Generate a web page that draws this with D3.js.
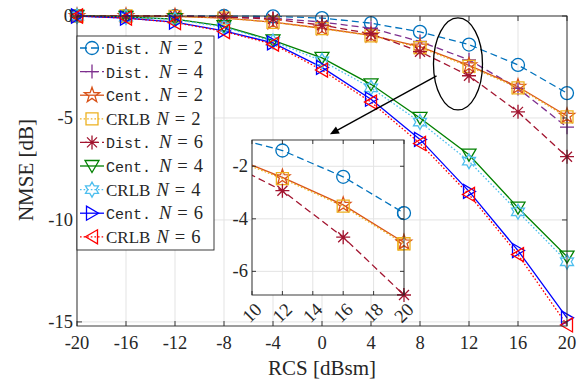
<!DOCTYPE html>
<html>
<head>
<meta charset="utf-8">
<script src="https://d3js.org/d3.v7.min.js"></script>
<style>
  body { margin: 0; background: #fff; }
  text { fill: #262626; }
</style>
</head>
<body>
<div id="chart"></div>
<script>
  // RCS values (x axis)
  const rcs = [-20, -16, -12, -8, -4, 0, 4, 8, 12, 16, 20];
  const xTicks = [-20, -16, -12, -8, -4, 0, 4, 8, 12, 16, 20];
  const yTicks = [-15, -10, -5, 0];
  const insetXTicks = [10, 12, 14, 16, 18, 20];
  const insetYTicks = [-6, -4, -2];

  // NMSE [dB] series
  const distN2 = [0, 0, 0, 0, -0.02, -0.1, -0.35, -0.78, -1.4, -2.4, -3.78];
  const distN4 = [0, 0, 0, -0.05, -0.1, -0.3, -0.6, -1.25, -2.15, -3.55, -5.45];
  const centN2 = [0, 0, -0.02, -0.1, -0.3, -0.6, -0.95, -1.5, -2.42, -3.47, -4.9];
  const crlbN2 = [0, 0, -0.02, -0.1, -0.31, -0.62, -0.97, -1.55, -2.47, -3.52, -4.95];
  const distN6 = [0, 0, 0, -0.05, -0.15, -0.45, -0.87, -1.75, -2.93, -4.7, -6.9];
  const centN4 = [0, -0.05, -0.15, -0.5, -1.2, -2.05, -3.35, -5.0, -6.8, -9.4, -11.8];
  const crlbN4 = [0, -0.05, -0.17, -0.55, -1.25, -2.2, -3.52, -5.2, -7.12, -9.6, -12.05];
  const centN6 = [0, -0.1, -0.3, -0.73, -1.32, -2.52, -4.08, -6.05, -8.6, -11.5, -14.8];
  const crlbN6 = [0, -0.1, -0.32, -0.76, -1.38, -2.65, -4.22, -6.25, -8.75, -11.7, -15.15];

  const labels = ["Dist.", "Dist.", "Cent.", "CRLB", "Dist.", "Cent.", "CRLB", "Cent.", "CRLB"];
  const nValues = [2, 4, 2, 2, 6, 4, 4, 6, 6];
  const seriesValues = [distN2, distN4, centN2, crlbN2, distN6, centN4, crlbN4, centN6, crlbN6];

  // styling per series
  const colors = ["#0072BD", "#7E2F8E", "#D95319", "#EDB120", "#A2142F", "#008000", "#4DBEEE", "#0000FF", "#FF0000"];
  const dashes = ["7,4", "7,4", null, "1.6,2", "7,4", null, "1.6,2", null, "1.6,2"];
  const markers = ["circle", "plus", "pentagram", "square", "asterisk", "tridown", "hexagram", "triright", "trileft"];
  const insetSeries = [0, 2, 3, 4];

  const series = seriesValues.map((vals, i) => ({
    label: labels[i], n: nValues[i], color: colors[i], dash: dashes[i], marker: markers[i],
    values: rcs.map((x, j) => ({ x: x, y: vals[j] }))
  }));

  const W = 580, H = 380;
  const svg = d3.select("#chart").append("svg").attr("width", W).attr("height", H)
    .style("font-family", "'Liberation Serif', 'DejaVu Serif', serif");

  const x = d3.scaleLinear().domain([-20, 20]).range([77, 567]);
  const y = d3.scaleLinear().domain([-15.2, 0]).range([326, 16]);

  function starPath(points, rOut, rIn) {
    let p = [];
    for (let k = 0; k < points * 2; k++) {
      const r = k % 2 === 0 ? rOut : rIn;
      const a = -Math.PI / 2 + k * Math.PI / points;
      p.push([r * Math.cos(a), r * Math.sin(a)]);
    }
    return "M" + p.map(d => d[0].toFixed(2) + "," + d[1].toFixed(2)).join("L") + "Z";
  }

  function markerPath(m) {
    switch (m) {
      case "circle": return "M6.5,0A6.5,6.5 0 1,1 -6.5,0A6.5,6.5 0 1,1 6.5,0Z";
      case "plus": return "M-7,0H7M0,-7V7";
      case "pentagram": return starPath(5, 8, 3.2);
      case "square": return "M-6,-6H6V6H-6Z";
      case "asterisk": return "M-7,0H7M0,-7V7M-5,-5L5,5M-5,5L5,-5";
      case "tridown": return "M-7,-5.5L7,-5.5L0,6.5Z";
      case "hexagram": return starPath(6, 7.5, 4.3);
      case "triright": return "M-5.5,-7L-5.5,7L6.5,0Z";
      case "trileft": return "M5.5,-7L5.5,7L-6.5,0Z";
    }
  }

  function drawGrid(g, xs, ys, xt, yt) {
    const [x0, x1] = xs.range();
    const [y0, y1] = ys.range();
    g.append("g").selectAll("line").data(xt).join("line")
      .attr("x1", d => xs(d)).attr("x2", d => xs(d)).attr("y1", y0).attr("y2", y1)
      .attr("stroke", "#e3e3e3").attr("stroke-width", 1);
    g.append("g").selectAll("line").data(yt).join("line")
      .attr("x1", x0).attr("x2", x1).attr("y1", d => ys(d)).attr("y2", d => ys(d))
      .attr("stroke", "#e3e3e3").attr("stroke-width", 1);
  }

  function drawFrame(g, xs, ys, xt, yt, tickLen) {
    const [x0, x1] = xs.range();
    const [y0, y1] = ys.range();
    const t = g.append("g").attr("stroke", "#262626").attr("stroke-width", 0.9);
    xt.forEach(d => {
      t.append("line").attr("x1", xs(d)).attr("x2", xs(d)).attr("y1", y0).attr("y2", y0 - tickLen);
      t.append("line").attr("x1", xs(d)).attr("x2", xs(d)).attr("y1", y1).attr("y2", y1 + tickLen);
    });
    yt.forEach(d => {
      t.append("line").attr("x1", x0).attr("x2", x0 + tickLen).attr("y1", ys(d)).attr("y2", ys(d));
      t.append("line").attr("x1", x1).attr("x2", x1 - tickLen).attr("y1", ys(d)).attr("y2", ys(d));
    });
    g.append("rect").attr("x", x0).attr("y", y1).attr("width", x1 - x0).attr("height", y0 - y1)
      .attr("fill", "none").attr("stroke", "#262626").attr("stroke-width", 0.9);
  }

  function drawSeries(g, xs, ys, list) {
    const line = d3.line().x(d => xs(d.x)).y(d => ys(d.y));
    list.forEach(s => {
      g.append("path").datum(s.values).attr("d", line)
        .attr("fill", "none").attr("stroke", s.color).attr("stroke-width", 1.3)
        .attr("stroke-dasharray", s.dash);
    });
    list.forEach(s => {
      g.append("g").selectAll("path").data(s.values).join("path")
        .attr("transform", d => `translate(${xs(d.x)},${ys(d.y)})`)
        .attr("d", markerPath(s.marker))
        .attr("fill", "none").attr("stroke", s.color).attr("stroke-width", 1.3);
    });
  }

  // main axes
  const main = svg.append("g");
  main.append("rect").attr("x", 77).attr("y", 16).attr("width", 490).attr("height", 310).attr("fill", "#fff");
  drawGrid(main, x, y, xTicks, yTicks);
  drawSeries(main, x, y, series);
  drawFrame(main, x, y, xTicks, yTicks, 5);

  main.append("g").selectAll("text").data(xTicks).join("text")
    .attr("x", d => x(d)).attr("y", 349).attr("text-anchor", "middle")
    .attr("font-size", 18.5).text(d => d);
  main.append("g").selectAll("text").data(yTicks).join("text")
    .attr("x", 73).attr("y", d => y(d) + 6).attr("text-anchor", "end")
    .attr("font-size", 18.5).text(d => d);

  svg.append("text").attr("x", x(0)).attr("y", 375).attr("text-anchor", "middle")
    .attr("font-size", 21).text("RCS [dBsm]");
  svg.append("text").attr("transform", "translate(33,170) rotate(-90)").attr("text-anchor", "middle")
    .attr("font-size", 21).text("NMSE [dB]");

  // ellipse + arrow annotation
  svg.append("ellipse").attr("cx", x(11.1)).attr("cy", y(-2.35)).attr("rx", 24.5).attr("ry", 46)
    .attr("fill", "none").attr("stroke", "#000").attr("stroke-width", 1.3);
  const ax0 = x(9.35), ay0 = y(-2.94), ax1 = x(0.65), ay1 = y(-5.8);
  const ang = Math.atan2(ay1 - ay0, ax1 - ax0);
  svg.append("line").attr("x1", ax0).attr("y1", ay0).attr("x2", ax1 - 6 * Math.cos(ang)).attr("y2", ay1 - 6 * Math.sin(ang))
    .attr("stroke", "#000").attr("stroke-width", 1.4);
  const ah = 9, aw = 4;
  svg.append("path")
    .attr("d", `M${ax1},${ay1}L${ax1 - ah * Math.cos(ang) + aw * Math.sin(ang)},${ay1 - ah * Math.sin(ang) - aw * Math.cos(ang)}L${ax1 - ah * Math.cos(ang) - aw * Math.sin(ang)},${ay1 - ah * Math.sin(ang) + aw * Math.cos(ang)}Z`)
    .attr("fill", "#000");

  // legend
  const leg = svg.append("g");
  leg.append("rect").attr("x", 77).attr("y", 36).attr("width", 137).attr("height", 214)
    .attr("fill", "#fff").attr("stroke", "#262626").attr("stroke-width", 0.9);
  series.forEach((s, i) => {
    const cy = 48 + i * 23.6;
    const r = leg.append("g");
    r.append("line").attr("x1", 80).attr("x2", 104).attr("y1", cy).attr("y2", cy)
      .attr("stroke", s.color).attr("stroke-width", 1.3).attr("stroke-dasharray", s.dash);
    r.append("path").attr("transform", `translate(92,${cy})`).attr("d", markerPath(s.marker))
      .attr("fill", "none").attr("stroke", s.color).attr("stroke-width", 1.3);
    const t = r.append("text").attr("x", 106).attr("y", cy + 6).attr("font-size", 18.5);
    if (s.label === "CRLB") {
      t.append("tspan").attr("font-size", 17).text("CRLB");
    } else {
      t.append("tspan").attr("font-family", "'Liberation Mono', monospace").attr("font-size", 15).text(s.label);
    }
    t.append("tspan").attr("dx", s.label === "CRLB" ? 6 : 8).attr("font-style", "italic").text("N");
    t.append("tspan").attr("dx", 6).text("=");
    t.append("tspan").attr("dx", 6).text(s.n);
  });

  // inset
  const ix = d3.scaleLinear().domain([10, 20]).range([252, 404]);
  const iy = d3.scaleLinear().domain([-6.9, -1]).range([295, 140]);
  const inset = svg.append("g");
  inset.append("rect").attr("x", 252).attr("y", 140).attr("width", 152).attr("height", 155).attr("fill", "#fff");
  svg.append("clipPath").attr("id", "insetClip").append("rect")
    .attr("x", 252).attr("y", 140).attr("width", 152).attr("height", 155);
  drawGrid(inset, ix, iy, insetXTicks, insetYTicks);
  const ig = inset.append("g").attr("clip-path", "url(#insetClip)");
  drawSeries(ig, ix, iy, insetSeries.map(i => series[i]));
  // markers at the right edge sit on the frame, redraw them unclipped
  insetSeries.forEach(i => {
    const s = series[i];
    inset.append("g").selectAll("path").data(s.values.filter(d => d.x === 20)).join("path")
      .attr("transform", d => `translate(${ix(d.x)},${iy(d.y)})`)
      .attr("d", markerPath(s.marker))
      .attr("fill", "none").attr("stroke", s.color).attr("stroke-width", 1.3);
  });
  drawFrame(inset, ix, iy, insetXTicks, insetYTicks, 4);
  inset.append("g").selectAll("text").data(insetXTicks).join("text")
    .attr("transform", d => `translate(${ix(d)},313) rotate(-45)`)
    .attr("text-anchor", "middle").attr("dominant-baseline", "central")
    .attr("font-size", 18.5).text(d => d);
  inset.append("g").selectAll("text").data(insetYTicks).join("text")
    .attr("x", 248).attr("y", d => iy(d) + 6).attr("text-anchor", "end")
    .attr("font-size", 18.5).text(d => d);
</script>
</body>
</html>
